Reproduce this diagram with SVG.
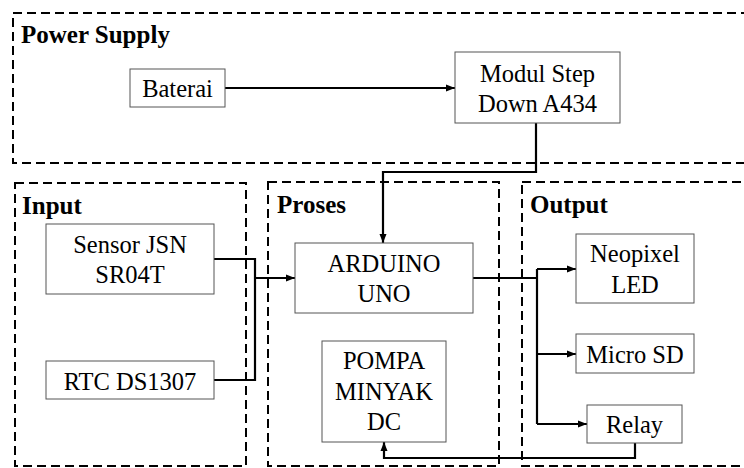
<svg xmlns="http://www.w3.org/2000/svg" width="744" height="468" viewBox="0 0 744 468">
<style>
.grp{fill:none;stroke:#000;stroke-width:2;stroke-dasharray:9 5}
.box{fill:#fff;stroke:#555;stroke-width:1}
.t{font-family:'Liberation Serif','Times New Roman',Times,Tinos,'Noto Serif','DejaVu Serif',FreeSerif,serif;font-size:24.5px;fill:#000;text-anchor:middle}
.h{font-family:'Liberation Serif','Times New Roman',Times,Tinos,'Noto Serif','DejaVu Serif',FreeSerif,serif;font-size:25px;font-weight:bold;fill:#000}
.c{fill:none;stroke:#000;stroke-width:2.2}
</style>
<defs>
<marker id="ah" markerUnits="userSpaceOnUse" markerWidth="10" markerHeight="10" refX="9" refY="5" orient="auto">
<path d="M0,1.5 L9,5 L0,8.5 Z" fill="#000"/>
</marker>
</defs>
<rect width="744" height="468" fill="#fff"/>
<g id="power-supply">
<rect class="grp" x="13" y="13" width="760" height="150"/>
<text class="h" x="21" y="43">Power Supply</text>
</g>
<g id="input">
<rect class="grp" x="15" y="183" width="231" height="283"/>
<text class="h" x="22" y="214">Input</text>
</g>
<g id="proses">
<rect class="grp" x="268" y="182" width="231" height="284"/>
<text class="h" x="277" y="213">Proses</text>
</g>
<g id="output">
<rect class="grp" x="522" y="182" width="240" height="284"/>
<text class="h" x="530" y="213">Output</text>
</g>
<g id="connectors">
<path class="c" d="M225 88 H455" marker-end="url(#ah)"/>
<path class="c" d="M536 123 V172 H383 V243" marker-end="url(#ah)"/>
<path class="c" d="M214 259 H255 V380 H214"/>
<path class="c" d="M255 278 H295" marker-end="url(#ah)"/>
<path class="c" d="M473 278 H537"/>
<path class="c" d="M537 269 V424"/>
<path class="c" d="M537 269 H576" marker-end="url(#ah)"/>
<path class="c" d="M537 354 H576" marker-end="url(#ah)"/>
<path class="c" d="M537 424 H587" marker-end="url(#ah)"/>
<path class="c" d="M635 443 V458 H384 V442" marker-end="url(#ah)"/>
</g>
<g id="baterai">
<rect class="box" x="130" y="69" width="95" height="38"/>
<text class="t" x="177.5" y="97">Baterai</text>
</g>
<g id="modul-step-down">
<rect class="box" x="455" y="52" width="165" height="71"/>
<text class="t" x="537.5" y="82">Modul Step</text>
<text class="t" x="537.5" y="112">Down A434</text>
</g>
<g id="sensor-jsn">
<rect class="box" x="46" y="224" width="168" height="70"/>
<text class="t" x="130" y="253">Sensor JSN</text>
<text class="t" x="130" y="283">SR04T</text>
</g>
<g id="rtc">
<rect class="box" x="46" y="361" width="168" height="38"/>
<text class="t" x="130" y="390">RTC DS1307</text>
</g>
<g id="arduino">
<rect class="box" x="295" y="243" width="178" height="70"/>
<text class="t" x="384" y="272">ARDUINO</text>
<text class="t" x="384" y="302">UNO</text>
</g>
<g id="pompa">
<rect class="box" x="322" y="341" width="124" height="101"/>
<text class="t" x="384" y="369">POMPA</text>
<text class="t" x="384" y="400">MINYAK</text>
<text class="t" x="384" y="430">DC</text>
</g>
<g id="neopixel">
<rect class="box" x="576" y="234" width="118" height="69"/>
<text class="t" x="635" y="262">Neopixel</text>
<text class="t" x="635" y="293">LED</text>
</g>
<g id="microsd">
<rect class="box" x="576" y="334" width="118" height="39"/>
<text class="t" x="635" y="363">Micro SD</text>
</g>
<g id="relay">
<rect class="box" x="587" y="405" width="95" height="38"/>
<text class="t" x="634.5" y="433">Relay</text>
</g>
</svg>
